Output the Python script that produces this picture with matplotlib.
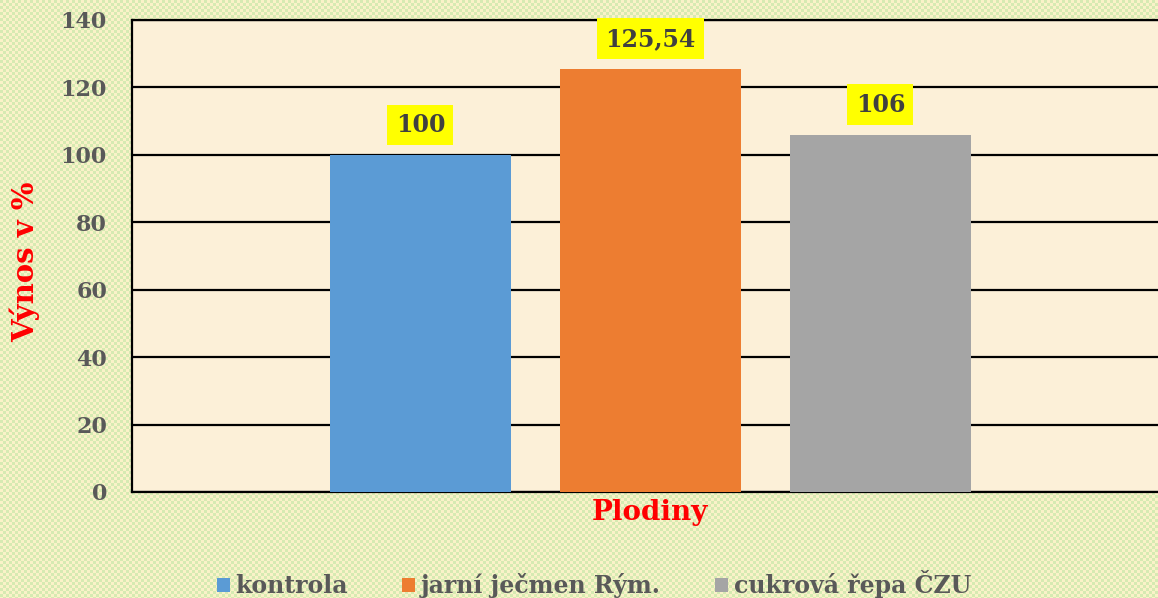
import numpy as np
import matplotlib.pyplot as plt

# data
series = ["kontrola", "jarní ječmen Rým.", "cukrová řepa ČZU"]
values = [100, 125.54, 106]
value_labels = ["100", "125,54", "106"]
colors = ["#5b9bd5", "#ed7d31", "#a5a5a5"]
category = "Plodiny"
yticks = [0, 20, 40, 60, 80, 100, 120, 140]

W, H = 1158, 598
fig = plt.figure(figsize=(W / 100, H / 100), dpi=100)

# checkered background of the slide
yy, xx = np.mgrid[0:H, 0:W]
mask = ((xx // 3) + (yy // 3)) % 2 == 0
bg = np.empty((H, W, 3))
bg[:] = np.array([250, 242, 200]) / 255
bg[mask] = np.array([214, 234, 178]) / 255
fig.figimage(bg, zorder=-1)

ax = fig.add_axes([132 / W, 1 - 492 / H, 1 - 132 / W, (492 - 20) / H], zorder=1)
ax.set_facecolor("#fcf0d8")

x = np.arange(len(values))
bars = ax.bar(x, values, width=0.787, color=colors, zorder=3)

for b, lab in zip(bars, value_labels):
    ax.annotate(lab, (b.get_x() + b.get_width() / 2, b.get_height()),
                xytext=(0, 13), textcoords="offset points",
                ha="center", va="bottom", fontsize=17, fontweight="bold",
                family="DejaVu Serif", color="#404040",
                bbox=dict(boxstyle="square,pad=0.35", fc="#ffff00", ec="none"),
                zorder=5)

ax.set_xlim(-1.254, 3.207)
ax.set_ylim(0, 140)
ax.set_yticks(yticks)
ax.yaxis.grid(True, color="black", linewidth=1.6, zorder=1)
ax.set_xticks([])
ax.tick_params(axis="y", length=0, pad=18)
for t in ax.get_yticklabels():
    t.set_fontsize(16)
    t.set_fontweight("bold")
    t.set_family("DejaVu Serif")
    t.set_color("#595959")

ax.spines["right"].set_visible(False)
for side in ["left", "bottom", "top"]:
    ax.spines[side].set_linewidth(1.6)
    ax.spines[side].set_color("black")

fig.text(650 / W, 1 - 513 / H, category, ha="center", va="center",
         fontsize=20, fontweight="bold", family="DejaVu Serif", color="red")
fig.text(25 / W, 1 - 262 / H, "Výnos v %", ha="center", va="center", rotation=90,
         fontsize=21, fontweight="bold", family="DejaVu Serif", color="red")

leg = fig.legend(handles=bars, labels=series, loc="center", ncol=3,
                 bbox_to_anchor=(594 / W, 1 - 584 / H), frameon=False,
                 prop=dict(family="DejaVu Serif", weight="bold", size=17),
                 handlelength=0.55, handleheight=0.55, handletextpad=0.25,
                 columnspacing=2.3)
for t in leg.get_texts():
    t.set_color("#595959")

fig.savefig("out.png", dpi=100)
